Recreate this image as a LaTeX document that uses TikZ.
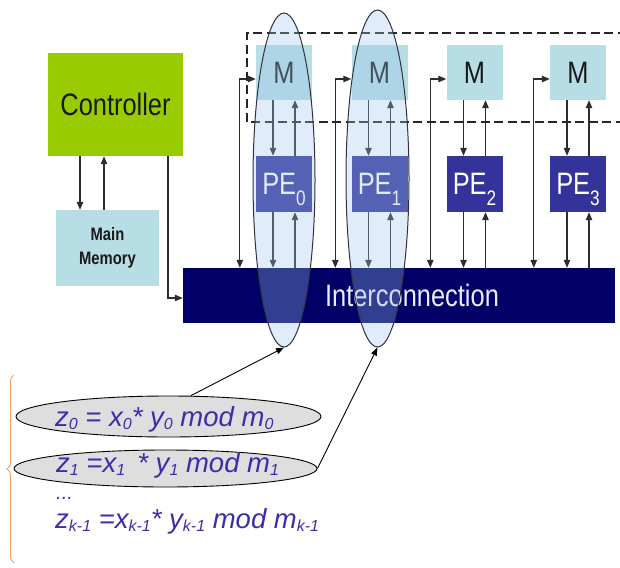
\documentclass[tikz,border=0pt]{standalone}
\usepackage{fontspec}
\setmainfont{Liberation Sans}
\newfontfamily\narrowfont[FakeStretch=0.82]{Liberation Sans}
\usetikzlibrary{arrows.meta,shapes.geometric,decorations.pathreplacing}
\definecolor{ctrlgreen}{RGB}{153,204,0}
\definecolor{memblue}{RGB}{183,222,228}
\definecolor{peblue}{RGB}{51,51,153}
\definecolor{icnavy}{RGB}{0,0,102}
\definecolor{conncol}{RGB}{45,45,45}
\definecolor{hullblue}{RGB}{158,197,238}
\definecolor{hullline}{RGB}{50,50,60}
\definecolor{taskgray}{RGB}{222,222,222}
\definecolor{eqblue}{RGB}{60,45,170}
\definecolor{braceorange}{RGB}{240,160,90}
\definecolor{darktext}{RGB}{25,25,25}
\newcommand\lsub[1]{\raisebox{-3.5pt}{\fontsize{16}{16}\selectfont #1}}
\newcommand\pesub[1]{\smash{\raisebox{-11pt}{\fontsize{21}{21}\selectfont #1}}}
\begin{document}
\begin{tikzpicture}[x=1pt,y=-1pt,
  box/.style={rectangle, inner sep=0pt, draw=none},
  ctrlbox/.style={box, fill=ctrlgreen, minimum width=135pt, minimum height=103pt, text=darktext, font=\narrowfont\fontsize{31}{31}\selectfont},
  mainmem/.style={box, fill=memblue, minimum width=103pt, minimum height=76pt, text=darktext, align=center, font=\narrowfont\bfseries\fontsize{18}{24}\selectfont},
  membox/.style={box, fill=memblue, minimum width=56pt, minimum height=55pt, text=darktext, font=\narrowfont\fontsize{31}{31}\selectfont},
  pebox/.style={box, fill=peblue, minimum width=56pt, minimum height=56pt, text=white, font=\narrowfont\fontsize{31}{31}\selectfont},
  icbox/.style={box, fill=icnavy, minimum width=432pt, minimum height=55pt, text=white!92!blue, font=\narrowfont\fontsize{31}{31}\selectfont},
  conn/.style={draw=conncol, line width=1.2pt, -{Triangle[length=8pt,width=6.5pt]}},
  both/.style={draw=conncol, line width=1.2pt, {Triangle[length=8pt,width=6.5pt]}-{Triangle[length=8pt,width=6.5pt]}},
  hull/.style={ellipse, draw=hullline, line width=1pt, fill=hullblue, fill opacity=0.32, inner sep=0pt},
  task/.style={ellipse, draw=black, line width=0.9pt, fill=taskgray, inner sep=0pt},
  eq/.style={anchor=base west, inner sep=0pt, text=eqblue, font=\itshape\fontsize{27.5}{30}\selectfont},
  pointer/.style={draw=black, line width=0.9pt, -{Triangle[length=8pt,width=6pt]}}
]
\useasboundingbox (0,0) rectangle (620,567);

% main blocks
\node[ctrlbox] (ctrl) at (115.5,104.5) {Controller};
\node[mainmem] (mem) at (107.5,248) {Main\\Memory};
\node[icbox] (ic) at (399,295.5) {\hspace*{26pt}Interconnection};

\node[membox] (M0) at (284,72.5) {M};
\node[membox] (M1) at (379.5,72.5) {M};
\node[membox] (M2) at (474.5,72.5) {M};
\node[membox] (M3) at (578,72.5) {M};
\node[pebox] (PE0) at (284,184) {PE\pesub{0}};
\node[pebox] (PE1) at (379.5,184) {PE\pesub{1}};
\node[pebox] (PE2) at (474.5,184) {PE\pesub{2}};
\node[pebox] (PE3) at (578,184) {PE\pesub{3}};

% controller connections
\draw[conn] ([xshift=-35.5pt]ctrl.south) -- ([xshift=-35.5pt]ctrl.south |- mem.north);
\draw[conn] ([xshift=-11.5pt]ctrl.south |- mem.north) -- ([xshift=-11.5pt]ctrl.south);
\draw[conn] ([xshift=52.5pt]ctrl.south) |- ([yshift=-2.5pt]ic.west);

% column connections
\foreach \i in {0,...,3}{
  \draw[conn] ([xshift=-11pt]M\i.south) -- ([xshift=-11pt]PE\i.north);
  \draw[conn] ([xshift=11pt]PE\i.north) -- ([xshift=11pt]M\i.south);
  \draw[conn] ([xshift=-11pt]PE\i.south) -- ([xshift=-11pt]PE\i.south |- ic.north);
  \draw[conn] ([xshift=11pt]PE\i.south |- ic.north) -- ([xshift=11pt]PE\i.south);
  \draw[both] ([yshift=-6.5pt]M\i.west) -| ([xshift=-16pt]M\i.west |- ic.north);
}

% dashed memory frame
\draw[black!85, line width=1.3pt, dash pattern=on 9pt off 4.5pt] (640,33) -- (247,33) -- (247,122) -- (640,122);

% highlighted columns
\node[hull, minimum width=62pt, minimum height=334pt] (E0) at (284,180) {};
\node[hull, minimum width=63pt, minimum height=337pt] (E1) at (377.5,178.5) {};

% tasks
\node[task, minimum width=305pt, minimum height=41pt] (B0) at (168.5,416.5) {};
\node[task, minimum width=303pt, minimum height=37pt] (B1) at (165.5,468.5) {};

\node[eq] (t0) at (55,426) {z\lsub{0} = x\lsub{0}* y\lsub{0} mod m\lsub{0}};
\node[eq] (t1) at (56,472) {z\lsub{1} =x\lsub{1} \,* y\lsub{1} mod m\lsub{1}};
\node[eq, font=\itshape\fontsize{20}{20}\selectfont] (tdots) at (56,499) {...};
\node[eq] (tk) at (55,528) {z\lsub{k-1} =x\lsub{k-1}* y\lsub{k-1} mod m\lsub{k-1}};

\draw[pointer] (B0.43) -- (E0.south);
\draw[pointer] (B1.east) -- (E1.south);

% brace
\draw[braceorange, line width=0.9pt, decorate, decoration={brace, amplitude=7pt}] (14,563) -- (14,375);
\end{tikzpicture}
\end{document}
